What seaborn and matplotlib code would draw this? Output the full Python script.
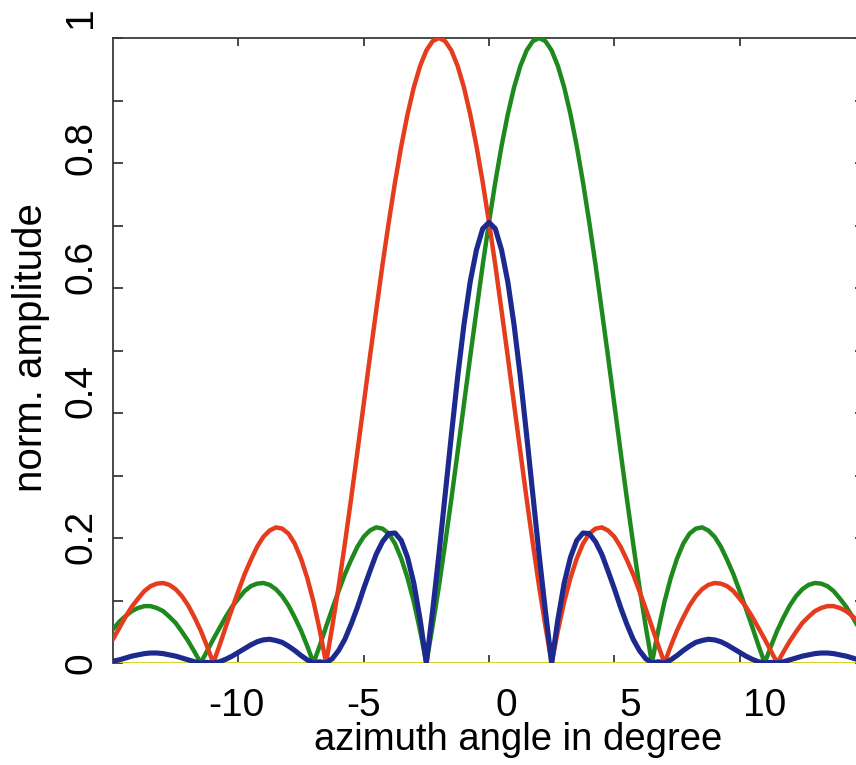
import numpy as np
import pandas as pd
import matplotlib
matplotlib.use("Agg")
import matplotlib.pyplot as plt
import seaborn as sns
from matplotlib.ticker import FixedLocator
from matplotlib.transforms import ScaledTranslation

# ---------------- data ----------------
angles = np.arange(-15.0, 15.001, 0.25)   # azimuth sample grid, degree

red = [
    0.038, 0.056, 0.074, 0.090, 0.103, 0.115, 0.123, 0.127, 0.128, 0.125,
    0.118, 0.107, 0.092, 0.073, 0.052, 0.027, 0.000, 0.028, 0.058, 0.087,
    0.115, 0.142, 0.165, 0.186, 0.202, 0.212, 0.217, 0.215, 0.207, 0.191,
    0.167, 0.136, 0.098, 0.052, 0.000, 0.059, 0.122, 0.191, 0.263, 0.338,
    0.414, 0.490, 0.564, 0.637, 0.705, 0.769, 0.827, 0.878, 0.921, 0.955,
    0.980, 0.995, 1.000, 0.995, 0.980, 0.955, 0.921, 0.878, 0.827, 0.769,
    0.705, 0.637, 0.564, 0.490, 0.414, 0.338, 0.263, 0.191, 0.122, 0.059,
    0.000, 0.052, 0.098, 0.136, 0.167, 0.191, 0.207, 0.215, 0.217, 0.212,
    0.202, 0.186, 0.165, 0.142, 0.115, 0.087, 0.058, 0.028, 0.000, 0.027,
    0.052, 0.073, 0.092, 0.107, 0.118, 0.125, 0.128, 0.127, 0.123, 0.115,
    0.103, 0.090, 0.074, 0.056, 0.038, 0.019, 0.000, 0.018, 0.035, 0.050,
    0.064, 0.074, 0.083, 0.088, 0.091, 0.091, 0.088, 0.083, 0.075, 0.066,
    0.054,
]

green = [
    0.054,
    0.066, 0.075, 0.083, 0.088, 0.091, 0.091, 0.088, 0.083, 0.074, 0.064,
    0.050, 0.035, 0.018, 0.000, 0.019, 0.038, 0.056, 0.074, 0.090, 0.103,
    0.115, 0.123, 0.127, 0.128, 0.125, 0.118, 0.107, 0.092, 0.073, 0.052,
    0.027, 0.000, 0.028, 0.058, 0.087, 0.115, 0.142, 0.165, 0.186, 0.202,
    0.212, 0.217, 0.215, 0.207, 0.191, 0.167, 0.136, 0.098, 0.052, 0.000,
    0.059, 0.122, 0.191, 0.263, 0.338, 0.414, 0.490, 0.564, 0.637, 0.705,
    0.769, 0.827, 0.878, 0.921, 0.955, 0.980, 0.995, 1.000, 0.995, 0.980,
    0.955, 0.921, 0.878, 0.827, 0.769, 0.705, 0.637, 0.564, 0.490, 0.414,
    0.338, 0.263, 0.191, 0.122, 0.059, 0.000, 0.052, 0.098, 0.136, 0.167,
    0.191, 0.207, 0.215, 0.217, 0.212, 0.202, 0.186, 0.165, 0.142, 0.115,
    0.087, 0.058, 0.028, 0.000, 0.027, 0.052, 0.073, 0.092, 0.107, 0.118,
    0.125, 0.128, 0.127, 0.123, 0.115, 0.103, 0.090, 0.074, 0.056, 0.038,
]

blue = [
    0.003, 0.005, 0.008, 0.011, 0.013, 0.015, 0.016, 0.016, 0.015, 0.013,
    0.011, 0.008, 0.005, 0.002, 0.000, 0.001, 0.000, 0.002, 0.006, 0.011,
    0.017, 0.023, 0.029, 0.034, 0.037, 0.038, 0.036, 0.033, 0.027, 0.020,
    0.012, 0.005, 0.000, 0.002, 0.000, 0.007, 0.020, 0.038, 0.062, 0.089,
    0.119, 0.147, 0.174, 0.194, 0.207, 0.208, 0.196, 0.169, 0.128, 0.070,
    0.000, 0.083, 0.173, 0.269, 0.365, 0.458, 0.541, 0.610, 0.661, 0.695,
    0.705,
    0.695, 0.661, 0.610, 0.541, 0.458, 0.365, 0.269, 0.173, 0.083, 0.000,
    0.070, 0.128, 0.169, 0.196, 0.208, 0.207, 0.194, 0.174, 0.147, 0.119,
    0.089, 0.062, 0.038, 0.020, 0.007, 0.000, 0.002, 0.000, 0.005, 0.012,
    0.020, 0.027, 0.033, 0.036, 0.038, 0.037, 0.034, 0.029, 0.023, 0.017,
    0.011, 0.006, 0.002, 0.000, 0.001, 0.000, 0.002, 0.005, 0.008, 0.011,
    0.013, 0.015, 0.016, 0.016, 0.015, 0.013, 0.011, 0.008, 0.005, 0.003,
]

baseline_x = [-15.0, 15.0]
baseline_y = [0.0, 0.0]

x_ticks = [-10, -5, 0, 5, 10]
x_tick_labels = ["-10", "-5", "0", "5", "10"]
y_ticks = [0, 0.2, 0.4, 0.6, 0.8, 1.0]
y_tick_labels = ["0", "0.2", "0.4", "0.6", "0.8", "1"]
y_minor = [0.1, 0.3, 0.5, 0.7, 0.9]

x_label = "azimuth angle in degree"
y_label = "norm. amplitude"

# ---------------- style ----------------
sns.set_theme(style="ticks")
plt.rcParams["font.family"] = ["Liberation Sans", "DejaVu Sans"]

C_RED = "#E43C1C"
C_GREEN = "#1E8A1E"
C_BLUE = "#1C2A90"
C_YEL = "#D4D430"
C_AX = "#3a3a3a"

fig = plt.figure(figsize=(8.56, 7.65), dpi=100)
ax = fig.add_axes([113 / 856, 102 / 765, 752 / 856, 625 / 765])

sns.lineplot(x=baseline_x, y=baseline_y, color=C_YEL, linewidth=2.2, ax=ax,
             estimator=None, sort=False, zorder=2)
sns.lineplot(x=angles, y=green, color=C_GREEN, linewidth=3.2, ax=ax,
             estimator=None, sort=False, zorder=3)
sns.lineplot(x=angles, y=red, color=C_RED, linewidth=3.2, ax=ax,
             estimator=None, sort=False, zorder=4)
sns.lineplot(x=angles, y=blue, color=C_BLUE, linewidth=3.7, ax=ax,
             estimator=None, sort=False, zorder=5)

ax.set_xlim(-15, 15)
ax.set_ylim(0, 1)

for side in ["top", "left", "right"]:
    ax.spines[side].set_color(C_AX)
    ax.spines[side].set_linewidth(1.3)
ax.spines["bottom"].set_visible(False)

ax.set_xticks(x_ticks)
ax.set_xticklabels(x_tick_labels)
ax.set_yticks(y_ticks)
ax.set_yticklabels(y_tick_labels)
ax.yaxis.set_minor_locator(FixedLocator(y_minor))

ax.tick_params(axis="x", which="major", direction="in", length=6, width=1.3,
               color=C_AX, top=True, bottom=True, labelsize=28, pad=18,
               labelcolor="black")
ax.tick_params(axis="y", which="both", direction="in", length=7.5, width=1.3,
               color=C_AX, left=True, right=True, labelsize=28, pad=10,
               labelcolor="black")
ax.tick_params(axis="y", which="major", labelrotation=90)

ax.set_xlabel(x_label, fontsize=27.5, color="black")
ax.set_ylabel(y_label, fontsize=29, color="black")
ax.xaxis.set_label_coords(0.5386, -0.094)
ax.yaxis.set_label_coords(-0.084, 0.504)

# reproduce the slight misplacement of tick labels seen in the reference
x_off_px = [-2, 0, 17, 16, 25]
for lab, dx in zip(ax.get_xticklabels(), x_off_px):
    lab.set_transform(lab.get_transform() +
                      ScaledTranslation(dx / 100, 0, fig.dpi_scale_trans))
y_off_px = [0, 1, 22, 21, 15, 21]
for lab, dy in zip(ax.get_yticklabels(), y_off_px):
    lab.set_va("center")
    lab.set_transform(lab.get_transform() +
                      ScaledTranslation(0, dy / 100, fig.dpi_scale_trans))

fig.savefig("out.png", dpi=100)
